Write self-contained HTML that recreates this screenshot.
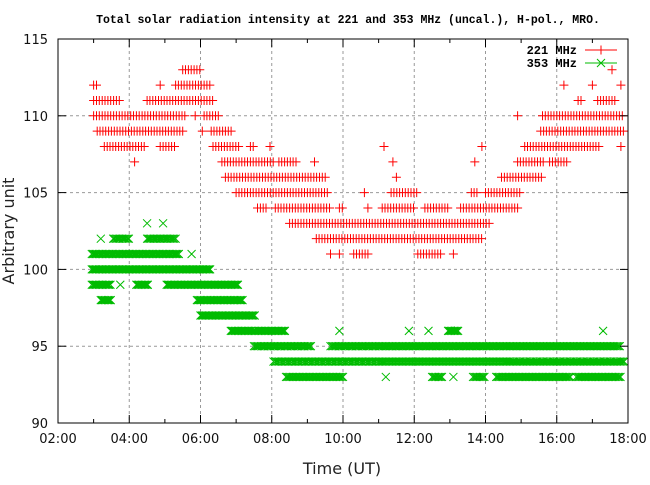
<!DOCTYPE html>
<html><head><meta charset="utf-8"><style>
body{margin:0;background:#fff}
svg text{font-family:"DejaVu Sans","Liberation Sans",sans-serif}
</style></head><body>
<svg id="chart" width="650" height="480" viewBox="0 0 650 480" xmlns="http://www.w3.org/2000/svg">
<rect width="650" height="480" fill="#fff"/>
<text x="348" y="23" text-anchor="middle" font-weight="bold" font-size="11.5" style="font-family:'Liberation Mono',monospace">Total solar radiation intensity at 221 and 353 MHz (uncal.), H-pol., MRO.</text>
<g id="grid"></g>
<g id="marks"></g>
<g id="axes"></g>
<text x="0" y="0" transform="translate(14,231) rotate(-90)" text-anchor="middle" font-size="16" fill="#222">Arbitrary unit</text>
<text x="342" y="474" text-anchor="middle" font-size="16" fill="#222">Time (UT)</text>
<g>
<text x="577" y="54" text-anchor="end" font-size="12" style="font-family:'Liberation Mono',monospace" font-weight="bold">221 MHz</text>
<line x1="585" y1="50" x2="617" y2="50" stroke="#f00"/>
<path d="M601 45.5V54.5M596.5 50H605.5" stroke="#f00"/>
<text x="577" y="67" text-anchor="end" font-size="12" style="font-family:'Liberation Mono',monospace" font-weight="bold">353 MHz</text>
<line x1="585" y1="63" x2="617" y2="63" stroke="#0b0"/>
<path d="M597 59L605 67M605 59L597 67" stroke="#0b0"/>
</g>
</svg>
<script>
// Runs: [level, startHour, endHour]
const runs221 = [
 [113,5.5,6.0],[113,17.55,17.55],
 [112,3.0,3.1],[112,4.87,4.87],[112,5.3,6.3],[112,16.2,16.2],[112,17.0,17.0],[112,17.8,17.8],
 [111,3.0,3.75],[111,4.5,6.4],[111,16.6,16.75],[111,17.15,17.65],
 [110,3.0,5.6],[110,5.85,5.85],[110,6.1,6.5],[110,14.9,14.9],[110,15.6,17.9],
 [109,3.1,5.5],[109,6.05,6.05],[109,6.3,6.87],[109,15.55,17.9],
 [108,3.3,4.45],[108,4.87,5.3],[108,6.35,7.1],[108,7.4,7.55],[108,7.95,7.95],[108,11.15,11.15],[108,13.9,13.9],[108,15.1,17.25],[108,17.8,17.8],
 [107,4.15,4.15],[107,6.6,8.1],[107,8.2,8.75],[107,9.2,9.2],[107,11.4,11.4],[107,13.7,13.7],[107,14.9,15.65],[107,15.8,16.35],
 [106,6.7,9.5],[106,11.5,11.5],[106,14.45,15.6],
 [105,7.0,9.6],[105,10.6,10.6],[105,11.35,12.1],[105,13.6,13.8],[105,14.0,15.0],
 [104,7.6,7.85],[104,8.1,9.65],[104,9.9,10.0],[104,10.7,10.7],[104,11.1,12.0],[104,12.3,13.0],[104,13.3,14.9],
 [103,8.5,14.1],
 [102,9.25,13.95],
 [101,9.65,9.65],[101,9.9,9.9],[101,10.3,10.7],[101,12.1,12.75],[101,13.1,13.1]
];
const runs353 = [
 [103,4.5,4.5],[103,4.95,4.95],
 [102,3.2,3.2],[102,3.55,4.0],[102,4.5,5.3],
 [101,2.95,5.4],[101,5.75,5.75],
 [100,2.95,6.3],
 [99,2.95,3.5],[99,3.75,3.75],[99,4.2,4.55],[99,5.05,7.05],
 [98,3.2,3.5],[98,5.9,7.2],
 [97,6.0,7.55],
 [96,6.85,8.4],[96,9.9,9.9],[96,11.85,11.85],[96,12.4,12.4],[96,12.95,13.25],[96,17.3,17.3],
 [95,7.5,9.1],[95,9.65,17.8],
 [94,8.05,17.9],
 [93,8.4,10.0],[93,11.2,11.2],[93,12.5,12.8],[93,13.1,13.1],[93,13.65,14.0],[93,14.3,16.4],[93,16.55,17.8]
];
const xTicks = ["02:00","04:00","06:00","08:00","10:00","12:00","14:00","16:00","18:00"];
const yTicks = [90,95,100,105,110,115];

const L=58,R=628,T=39,B=423,H0=2,H1=18,V0=90,V1=115;
const xs=h=>L+(h-H0)/(H1-H0)*(R-L);
const ys=v=>B-(v-V0)/(V1-V0)*(B-T);
const NS="http://www.w3.org/2000/svg";
function mk(tag,attrs,parent){const e=document.createElementNS(NS,tag);for(const k in attrs)e.setAttribute(k,attrs[k]);parent.appendChild(e);return e;}
const grid=document.getElementById('grid'),axes=document.getElementById('axes'),marks=document.getElementById('marks');
xTicks.forEach((t,i)=>{
 const h=H0+i*2,x=xs(h);
 if(i>0&&i<xTicks.length-1){const g=mk('line',{x1:x,y1:T,x2:x,y2:B,stroke:'#999','stroke-dasharray':'3,3'},grid);
 
 }
 const lab=mk('text',{x:x,y:B+20,'text-anchor':'middle','font-size':'13',fill:'#111'},axes);lab.textContent=t;
 
 
});
for(let h=H0+1;h<H1;h++){const x=xs(h),len=(h%2===0)?8:4;
 mk('line',{x1:x,y1:B,x2:x,y2:B-len,stroke:'#000'},axes);mk('line',{x1:x,y1:T,x2:x,y2:T+len,stroke:'#000'},axes);}
yTicks.forEach(v=>{const y=ys(v);
 if(v>V0&&v<V1){const g=mk('line',{x1:L,y1:y,x2:R,y2:y,stroke:'#999','stroke-dasharray':'3,3'},grid);
 
 
 mk('line',{x1:L,y1:y,x2:L+8,y2:y,stroke:'#000'},axes);mk('line',{x1:R,y1:y,x2:R-8,y2:y,stroke:'#000'},axes);}
 const lab=mk('text',{x:L-10,y:y+5,'text-anchor':'end','font-size':'13',fill:'#111'},axes);lab.textContent=v;
 
 
});
const frame=mk('rect',{x:L,y:T,width:R-L,height:B-T,fill:'none',stroke:'#000'},axes);



function draw(runs,color,kind,name,step){
 let d='';
 runs.forEach(r=>{
  for(let h=r[1];h<=r[2]+1e-6;h+=step){
   const x=xs(h),y=ys(r[0]);
   if(kind==='plus')d+=`M${x.toFixed(1)} ${y-4.5}V${y+4.5}M${(x-4.5).toFixed(1)} ${y}H${(x+4.5).toFixed(1)}`;
   else d+=`M${(x-4).toFixed(1)} ${y-4}L${(x+4).toFixed(1)} ${y+4}M${(x+4).toFixed(1)} ${y-4}L${(x-4).toFixed(1)} ${y+4}`;
  }
 });
 const p=mk('path',{d:d,stroke:color,'stroke-width':'1',fill:'none'},marks);
 
 
}
draw(runs353,'#00bb00','x','series-353mhz',0.04);
draw(runs221,'#ff0000','plus','series-221mhz',0.08);
</script>
</body></html>
